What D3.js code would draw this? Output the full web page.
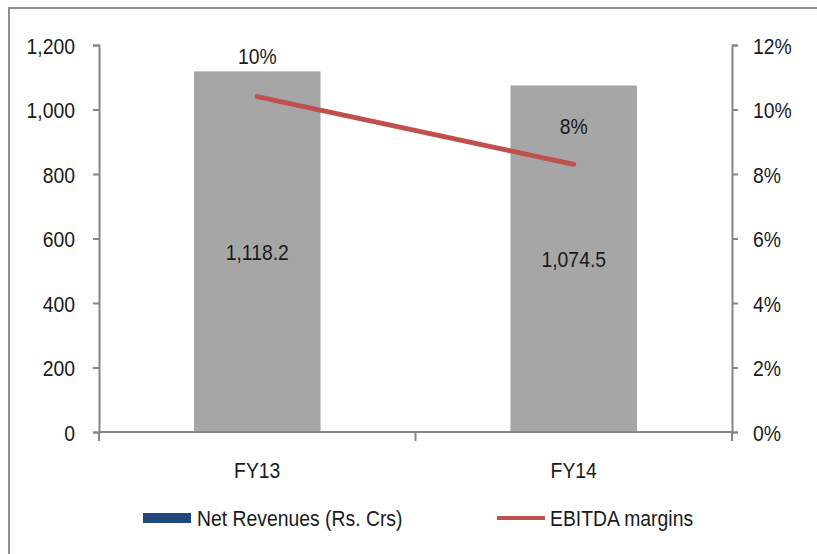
<!DOCTYPE html>
<html>
<head>
<meta charset="utf-8">
<script src="https://cdn.jsdelivr.net/npm/d3@7"></script>
<style>
  body { margin: 0; background: #fff; }
  text { font-family: "Liberation Sans", Arial, sans-serif; fill: #1a1a1a; }
</style>
</head>
<body>
<svg id="chart" width="817" height="554"></svg>
<script>
const years = ["FY13", "FY14"];
const revenues = [1118.2, 1074.5];
const margins = [10.4, 8.3];
const marginLabels = ["10%", "8%"];
const revTicks = [0, 200, 400, 600, 800, 1000, 1200];
const pctTicks = [0, 2, 4, 6, 8, 10, 12];

const svg = d3.select("#chart");
const margin = { top: 45, right: 85, bottom: 122, left: 99 };
const width = 817 - margin.left - margin.right;
const height = 554 - margin.top - margin.bottom;

const fontSize = 22;
const squeeze = 0.88; // narrow the glyphs a bit, the source font is condensed
const axisColor = "#868686";

// place a text at (px, py) with horizontally squeezed glyphs
function place(sel, px, py) {
  sel.attr("x", 0).attr("y", 0)
    .attr("transform", function (d, i) {
      const xx = typeof px === "function" ? px(d, i) : px;
      const yy = typeof py === "function" ? py(d, i) : py;
      return `translate(${xx},${yy}) scale(${squeeze},1)`;
    });
}

// outer frame
svg.append("rect")
  .attr("x", 9).attr("y", 8)
  .attr("width", 830).attr("height", 580)
  .attr("fill", "none")
  .attr("stroke", "#8f8f8f")
  .attr("stroke-width", 2);

const g = svg.append("g").attr("transform", `translate(${margin.left},${margin.top})`);

const x = d3.scaleBand().domain(years).range([0, width]).paddingInner(0.6).paddingOuter(0.3);
const y = d3.scaleLinear().domain([0, 1200]).range([height, 0]);
const y2 = d3.scaleLinear().domain([0, 12]).range([height, 0]);

// left axis
const yAxis = g.append("g")
  .call(d3.axisLeft(y).tickValues(revTicks).tickSize(6).tickFormat(d3.format(",")));
// right axis
const y2Axis = g.append("g")
  .attr("transform", `translate(${width},0)`)
  .call(d3.axisRight(y2).tickValues(pctTicks).tickSize(6).tickFormat(d => d + "%"));

[yAxis, y2Axis].forEach(a => {
  a.attr("font-family", null).attr("font-size", null);
  a.select(".domain").attr("stroke", axisColor).attr("stroke-width", 2);
  a.selectAll(".tick line").attr("stroke", axisColor).attr("stroke-width", 2);
  a.selectAll(".tick text").attr("font-size", fontSize).attr("fill", "#1a1a1a").attr("dy", null);
});
place(yAxis.selectAll(".tick text"), -24, 8);
place(y2Axis.selectAll(".tick text"), 21, 8);

// bars
g.selectAll(".bar")
  .data(years)
  .join("rect")
  .attr("class", "bar")
  .attr("x", d => x(d))
  .attr("width", x.bandwidth())
  .attr("y", (d, i) => y(revenues[i]))
  .attr("height", (d, i) => height - y(revenues[i]))
  .attr("fill", "#a6a6a6");

// x axis
const xAxisG = g.append("g").attr("transform", `translate(0,${height})`);
xAxisG.append("line")
  .attr("x1", 0).attr("x2", width)
  .attr("stroke", axisColor).attr("stroke-width", 2);
const boundaries = [0, width / 2, width];
xAxisG.selectAll(".xtick")
  .data(boundaries)
  .join("line")
  .attr("x1", d => d).attr("x2", d => d)
  .attr("y1", 0).attr("y2", 9)
  .attr("stroke", axisColor).attr("stroke-width", 2);
xAxisG.selectAll(".xlabel")
  .data(years)
  .join("text")
  .attr("text-anchor", "middle")
  .attr("font-size", fontSize)
  .text(d => d)
  .call(place, d => x(d) + x.bandwidth() / 2, 46);

// value labels inside bars
g.selectAll(".rev-label")
  .data(years)
  .join("text")
  .attr("text-anchor", "middle")
  .attr("font-size", fontSize)
  .text((d, i) => d3.format(",.1f")(revenues[i]))
  .call(place, d => x(d) + x.bandwidth() / 2, (d, i) => (y(revenues[i]) + height) / 2 + 8);

// EBITDA margin line
const line = d3.line()
  .x(d => x(d.year) + x.bandwidth() / 2)
  .y(d => y2(d.value));
const lineData = years.map((yr, i) => ({ year: yr, value: margins[i] }));
g.append("path")
  .datum(lineData)
  .attr("d", line)
  .attr("fill", "none")
  .attr("stroke", "#c0504d")
  .attr("stroke-width", 5)
  .attr("stroke-linecap", "round");

// margin labels
const marginLabelY = [y(revenues[0]) - 7, y2(margins[1]) - 30];
g.selectAll(".pct-label")
  .data(years)
  .join("text")
  .attr("text-anchor", "middle")
  .attr("font-size", fontSize)
  .text((d, i) => marginLabels[i])
  .call(place, d => x(d) + x.bandwidth() / 2, (d, i) => marginLabelY[i]);

// legend
const legend = svg.append("g").attr("transform", "translate(143,518)");
legend.append("rect")
  .attr("x", 0).attr("y", -5)
  .attr("width", 48).attr("height", 10)
  .attr("fill", "#1f497d");
legend.append("text")
  .attr("font-size", fontSize)
  .text("Net Revenues (Rs. Crs)")
  .call(place, 54, 8);
legend.append("line")
  .attr("x1", 354).attr("x2", 402)
  .attr("y1", 0).attr("y2", 0)
  .attr("stroke", "#c0504d").attr("stroke-width", 4);
legend.append("text")
  .attr("font-size", fontSize)
  .text("EBITDA margins")
  .call(place, 407, 8);
</script>
</body>
</html>
